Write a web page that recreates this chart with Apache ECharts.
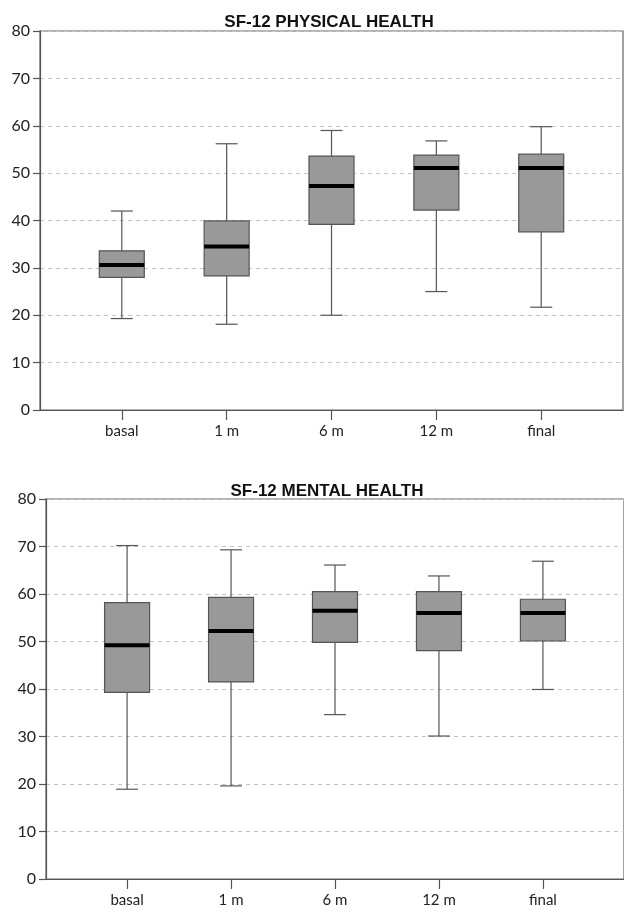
<!DOCTYPE html>
<html>
<head>
<meta charset="utf-8">
<script src="https://cdn.jsdelivr.net/npm/echarts@6/dist/echarts.min.js"></script>
<style>
  html, body { margin: 0; padding: 0; background: #fff; }
  #chart { width: 624px; height: 913px; }
</style>
</head>
<body>
<div id="chart"></div>
<script>
// categories (time points)
const categories = ['basal', '1 m', '6 m', '12 m', 'final']
const yTicks = [0, 10, 20, 30, 40, 50, 60, 70, 80]

// SF-12 physical health: min, Q1, median, Q3, max
const physMin = [19.3, 18.1, 20.0, 25.0, 21.7]
const physQ1 = [28.0, 28.3, 39.2, 42.2, 37.6]
const physMed = [30.6, 34.5, 47.3, 51.1, 51.1]
const physQ3 = [33.6, 39.9, 53.6, 53.8, 54.0]
const physMax = [42.0, 56.2, 59.0, 56.8, 59.8]

// SF-12 mental health
const mentMin = [18.9, 19.6, 34.6, 30.1, 39.9]
const mentQ1 = [39.3, 41.5, 49.8, 48.1, 50.1]
const mentMed = [49.2, 52.2, 56.5, 56.0, 56.0]
const mentQ3 = [58.2, 59.3, 60.5, 60.5, 58.9]
const mentMax = [70.2, 69.3, 66.1, 63.8, 66.9]

const labelFont = 'Lato'
const BOX_W = 45
const CAP_W = 22

function rows(mn, q1, md, q3, mx) {
    return categories.map((c, i) => [i + 1, mn[i], q1[i], md[i], q3[i], mx[i]])
}

// draws one box with whiskers, caps and a thick median
function renderBox(params, api) {
    const x = api.value(0)
    const pMin = api.coord([x, api.value(1)])
    const pQ1 = api.coord([x, api.value(2)])
    const pMed = api.coord([x, api.value(3)])
    const pQ3 = api.coord([x, api.value(4)])
    const pMax = api.coord([x, api.value(5)])
    const cx = pMin[0]
    const lineStyle = { stroke: '#555', lineWidth: 1.2, fill: null }
    return {
        type: 'group',
        children: [
            { type: 'line', shape: { x1: cx, y1: pMax[1], x2: cx, y2: pMin[1] }, style: lineStyle },
            { type: 'line', shape: { x1: cx - CAP_W / 2, y1: pMax[1], x2: cx + CAP_W / 2, y2: pMax[1] }, style: lineStyle },
            { type: 'line', shape: { x1: cx - CAP_W / 2, y1: pMin[1], x2: cx + CAP_W / 2, y2: pMin[1] }, style: lineStyle },
            { type: 'rect', shape: { x: cx - BOX_W / 2, y: pQ3[1], width: BOX_W, height: pQ1[1] - pQ3[1] },
              style: { fill: '#999999', stroke: '#555', lineWidth: 1.2 } },
            { type: 'rect', shape: { x: cx - BOX_W / 2, y: pMed[1] - 2, width: BOX_W, height: 4 },
              style: { fill: '#000' } }
        ]
    }
}

function xAxisFor(gridIndex) {
    return {
        type: 'value', gridIndex: gridIndex,
        min: 0.22, max: 5.78,
        axisLine: { show: true, lineStyle: { color: '#555', width: 1.2 } },
        axisTick: { show: true, customValues: [1, 2, 3, 4, 5], length: 10, lineStyle: { color: '#555', width: 1.2 } },
        axisLabel: {
            customValues: [1, 2, 3, 4, 5],
            formatter: v => categories[Math.round(v) - 1] || '',
            color: '#222', fontFamily: labelFont, fontSize: 15, margin: 14
        },
        splitLine: { show: false }
    }
}

function yAxisFor(gridIndex) {
    return {
        type: 'value', gridIndex: gridIndex,
        min: yTicks[0], max: yTicks[yTicks.length - 1], interval: 10,
        axisLine: { show: true, lineStyle: { color: '#555', width: 1.2 } },
        axisTick: { show: true, length: 7, lineStyle: { color: '#555', width: 1.2 } },
        axisLabel: { color: '#222', fontFamily: labelFont, fontSize: 16, margin: 10 },
        splitLine: { show: true, lineStyle: { color: '#c4c4c4', type: [4, 4], width: 1 } }
    }
}

const chart = echarts.init(document.getElementById('chart'))
chart.setOption({
    animation: false,
    backgroundColor: '#fff',
    title: [
        { text: 'SF-12 PHYSICAL HEALTH', left: 324, top: 9, textAlign: 'center',
          textStyle: { fontFamily: 'Liberation Sans', fontWeight: 'bold', fontSize: 17, color: '#111' } },
        { text: 'SF-12 MENTAL HEALTH', left: 322, top: 478, textAlign: 'center',
          textStyle: { fontFamily: 'Liberation Sans', fontWeight: 'bold', fontSize: 17, color: '#111' } }
    ],
    grid: [
        { left: 40, right: 1, top: 31, height: 379, show: true, borderColor: '#666', borderWidth: 1.2 },
        { left: 46, right: -5, top: 499, height: 380, show: true, borderColor: '#666', borderWidth: 1.2 }
    ],
    xAxis: [xAxisFor(0), xAxisFor(1)],
    yAxis: [yAxisFor(0), yAxisFor(1)],
    series: [
        { type: 'custom', xAxisIndex: 0, yAxisIndex: 0, renderItem: renderBox,
          encode: { x: 0, y: [1, 2, 3, 4, 5] }, data: rows(physMin, physQ1, physMed, physQ3, physMax) },
        { type: 'custom', xAxisIndex: 1, yAxisIndex: 1, renderItem: renderBox,
          encode: { x: 0, y: [1, 2, 3, 4, 5] }, data: rows(mentMin, mentQ1, mentMed, mentQ3, mentMax) }
    ]
})
</script>
</body>
</html>
